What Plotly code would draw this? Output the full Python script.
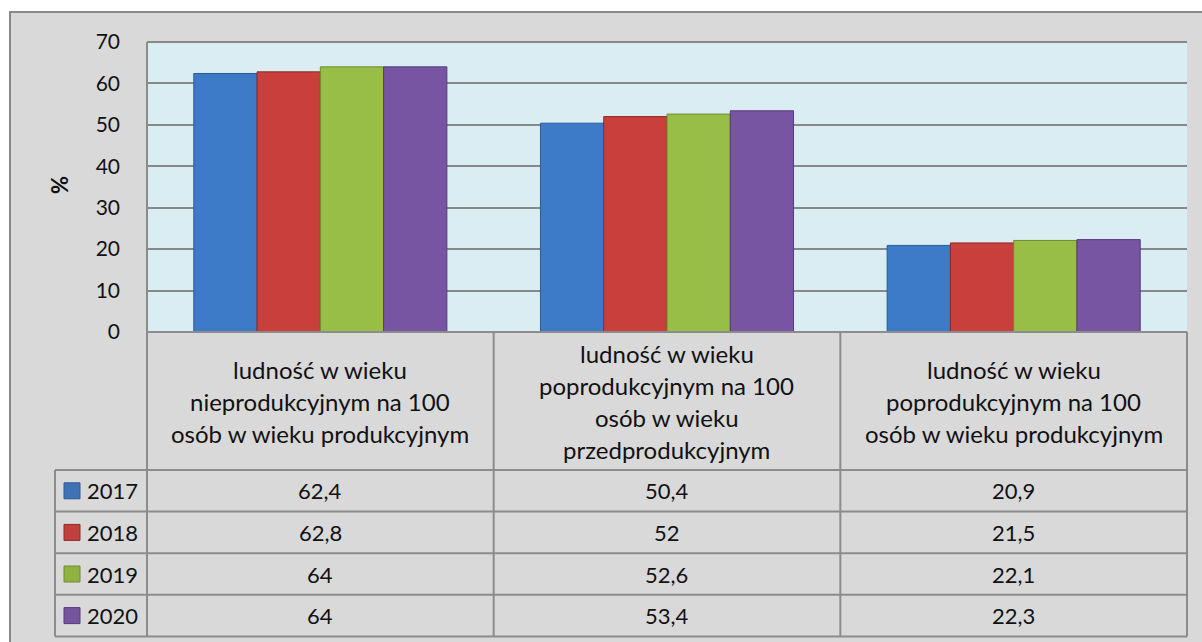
import plotly.graph_objects as go

# ---------------- data ----------------
categories = [
    "ludność w wieku|nieprodukcyjnym na 100|osób w wieku produkcyjnym",
    "ludność w wieku|poprodukcyjnym na 100|osób w wieku|przedprodukcyjnym",
    "ludność w wieku|poprodukcyjnym na 100|osób w wieku produkcyjnym",
]
years = ["2017", "2018", "2019", "2020"]
v2017 = [62.4, 50.4, 20.9]
v2018 = [62.8, 52.0, 21.5]
v2019 = [64.0, 52.6, 22.1]
v2020 = [64.0, 53.4, 22.3]
series = [v2017, v2018, v2019, v2020]
y_ticks = [0, 10, 20, 30, 40, 50, 60, 70]
y_title = "%"

# ---------------- style ----------------
W, H = 1202, 642
FONT = "Lato"
colors = ["#3D7AC7", "#C83F3C", "#98BE48", "#7855A2"]
edges = ["#2C5A96", "#8E2A28", "#6E8C2E", "#563A7A"]
keycolors = ["#3F72B5", "#C0403D", "#8FB243", "#74559C"]
GRID = "#888888"
LINE = "#8C8C8C"
BG = "#D9D9D9"
PLOTBG = "#DAEDF3"

PL, PR, PT, PB = 147, 1187, 42, 332   # plot area in pixels
TBL_LEFT = 55
HEADER_BOTTOM = 470
ROW_H = 41.6


def X(px):
    return px / W


def Y(py):
    return 1 - py / H


fig = go.Figure()
for yr, vals, c, e in zip(years, series, colors, edges):
    fig.add_trace(go.Bar(
        x=list(range(len(categories))), y=vals, name=yr,
        marker=dict(color=c, line=dict(color=e, width=1)),
        hoverinfo="skip",
    ))

shapes = []
# outer chart area
shapes.append(dict(type="rect", xref="paper", yref="paper",
                   x0=X(10), x1=X(W + 20), y0=Y(12), y1=Y(H + 20),
                   fillcolor=BG, line=dict(color="#898989", width=2), layer="below"))
# plot area background
shapes.append(dict(type="rect", xref="paper", yref="paper",
                   x0=X(PL), x1=X(PR), y0=Y(PB), y1=Y(PT),
                   fillcolor=PLOTBG, line=dict(width=0), layer="below"))

annotations = []
ncat = len(categories)
colw = (PR - PL) / ncat
table_bottom = HEADER_BOTTOM + ROW_H * len(years)


def hline(py, x0, x1, color=LINE, layer="above"):
    shapes.append(dict(type="line", xref="paper", yref="paper",
                       x0=X(x0), x1=X(x1), y0=Y(py), y1=Y(py),
                       line=dict(color=color, width=2), layer=layer))


def vline(px, y0, y1):
    shapes.append(dict(type="line", xref="paper", yref="paper",
                       x0=X(px), x1=X(px), y0=Y(y0), y1=Y(y1),
                       line=dict(color=LINE, width=2)))

# top gridline of plot area
hline(PT, PL, PR, color=GRID, layer="below")
hline(PB, PL, PR)
for i in range(len(years) + 1):
    hline(HEADER_BOTTOM + i * ROW_H, TBL_LEFT, PR)
vline(TBL_LEFT, HEADER_BOTTOM, table_bottom)
for j in range(ncat + 1):
    vline(PL + j * colw, PB if j > 0 else PT, table_bottom)

# category header text
LSP = 32
hc = (PB + HEADER_BOTTOM) / 2
for j, cat in enumerate(categories):
    lines = cat.split("|")
    n = len(lines)
    cx = PL + (j + 0.5) * colw
    for k, ln in enumerate(lines):
        cy = hc + (k - (n - 1) / 2) * LSP
        annotations.append(dict(xref="paper", yref="paper", x=X(cx), y=Y(cy),
                                text=ln, showarrow=False, xanchor="center", yanchor="middle",
                                font=dict(family=FONT, size=24, color="#111111")))

# data rows
for i, (yr, vals) in enumerate(zip(years, series)):
    cy = HEADER_BOTTOM + (i + 0.5) * ROW_H
    shapes.append(dict(type="rect", xref="paper", yref="paper",
                       x0=X(64), x1=X(80), y0=Y(cy - 8), y1=Y(cy + 8),
                       fillcolor=keycolors[i], line=dict(color=edges[i], width=1)))
    annotations.append(dict(xref="paper", yref="paper", x=X(85), y=Y(cy),
                            text=yr, showarrow=False, xanchor="left", yanchor="middle",
                            font=dict(family=FONT, size=22, color="#111111")))
    for j, v in enumerate(vals):
        cx = PL + (j + 0.5) * colw
        txt = (f"{v:g}").replace(".", ",")
        annotations.append(dict(xref="paper", yref="paper", x=X(cx), y=Y(cy),
                                text=txt, showarrow=False, xanchor="center", yanchor="middle",
                                font=dict(family=FONT, size=22, color="#111111")))

# y-axis title
annotations.append(dict(xref="paper", yref="paper", x=X(60), y=Y((PT + PB) / 2 - 2),
                        text=f"<b>{y_title}</b>", textangle=-90, showarrow=False,
                        xanchor="center", yanchor="middle",
                        font=dict(family=FONT, size=22, color="#111111")))

fig.update_layout(
    width=W, height=H,
    margin=dict(l=0, r=0, t=0, b=0, pad=0),
    paper_bgcolor="white",
    plot_bgcolor="rgba(0,0,0,0)",
    barmode="group",
    bargap=0.27,
    bargroupgap=0,
    showlegend=False,
    shapes=shapes,
    annotations=annotations,
    font=dict(family=FONT, color="#111111"),
    xaxis=dict(domain=[X(PL), X(PR)], range=[-0.5, ncat - 0.5],
               showticklabels=False, showgrid=False, zeroline=False,
               showline=False, fixedrange=True, automargin=False),
    yaxis=dict(domain=[Y(PB), Y(PT)], range=[0, 70],
               tickvals=y_ticks, ticktext=[str(t) for t in y_ticks],
               showgrid=True, gridcolor=GRID, gridwidth=1.5,
               zeroline=False, showline=False, automargin=False,
               ticks="", ticklabelstandoff=26,
               tickfont=dict(family=FONT, size=21, color="#111111")),
)

fig.write_html("out.html", config={"displayModeBar": False},
               post_script="document.body.style.margin='0';document.body.style.overflow='hidden';")
